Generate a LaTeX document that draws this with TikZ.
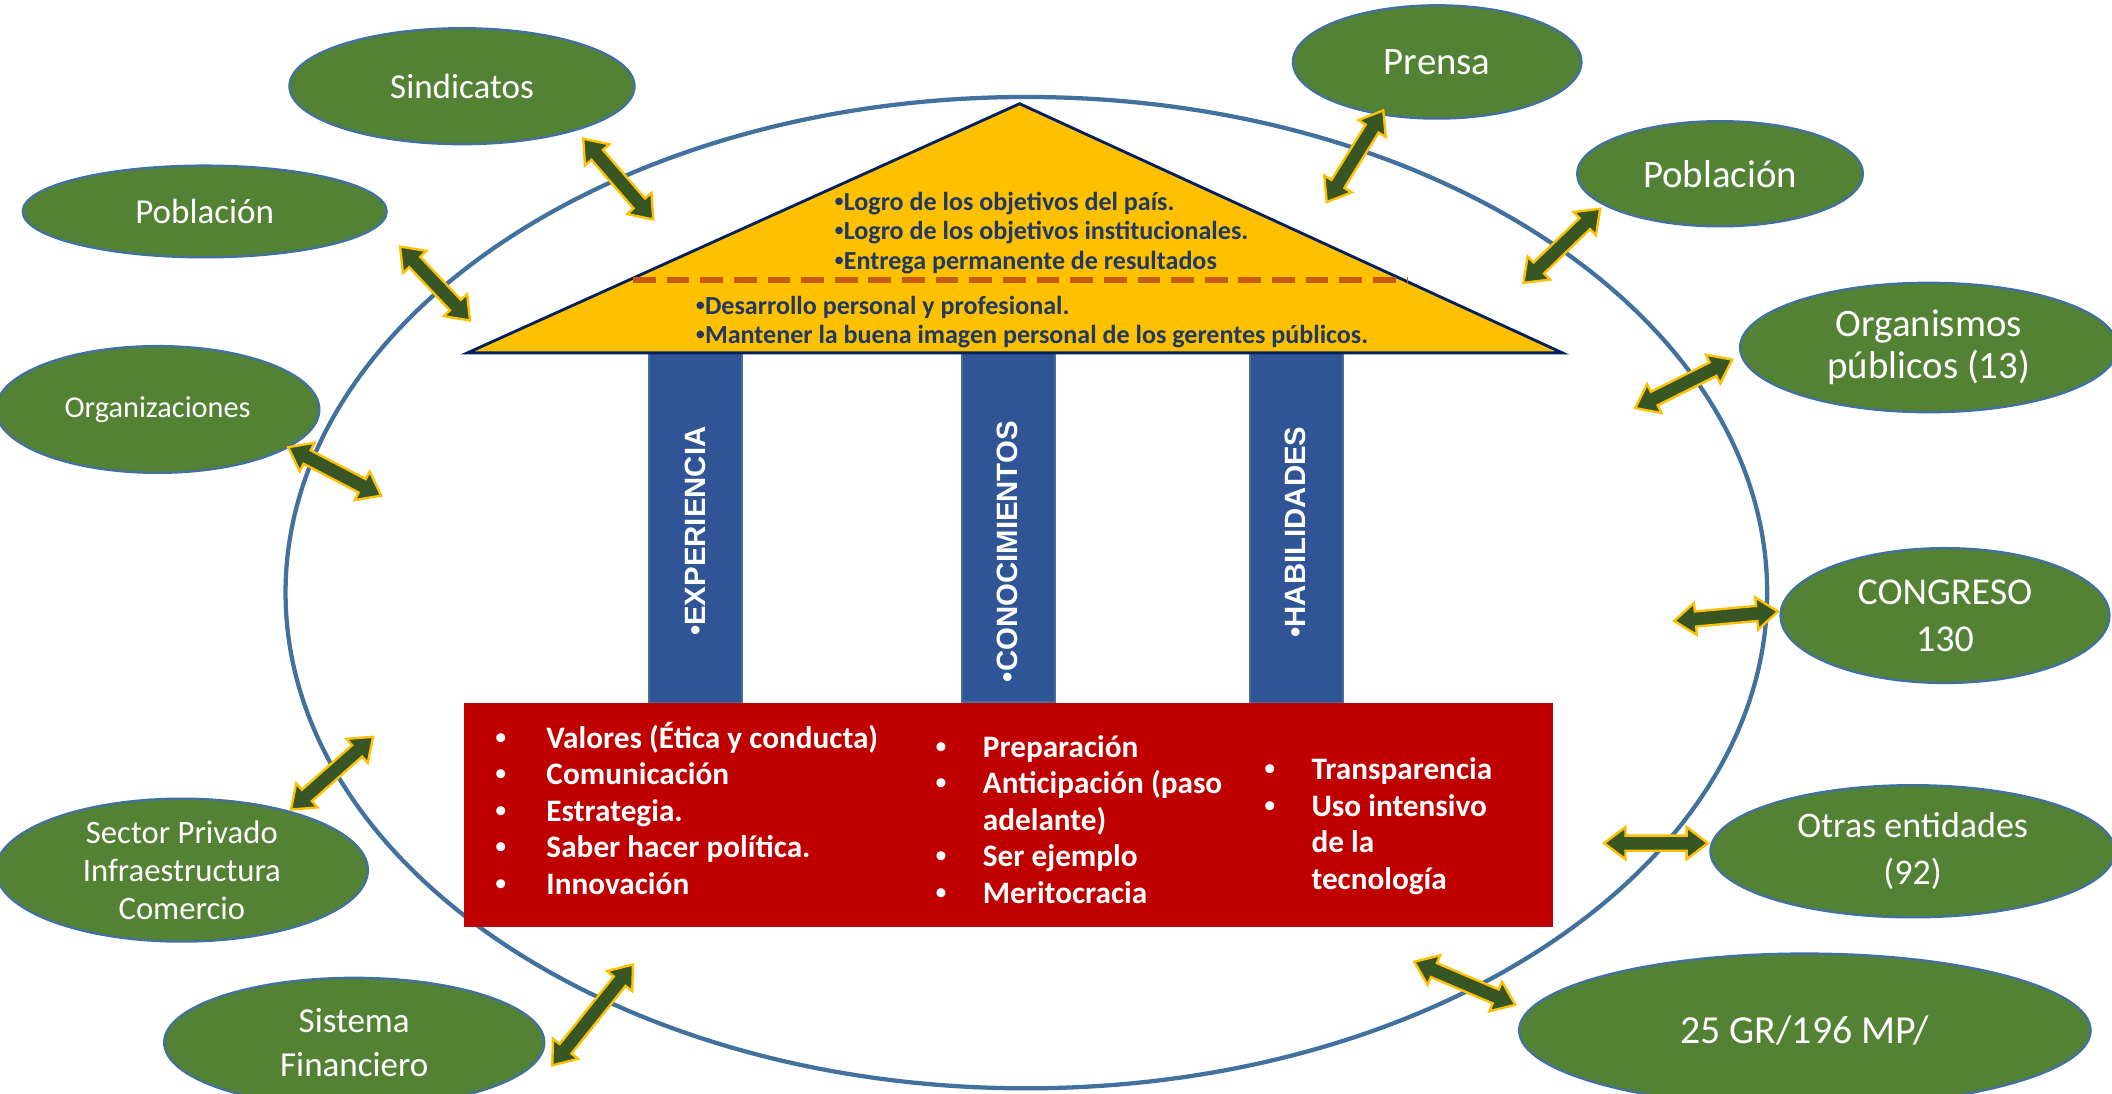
\documentclass[tikz,border=0pt]{standalone}
\usepackage{fontspec}
\setmainfont{Carlito}
\newfontfamily\pillarfont{Liberation Sans}
\usetikzlibrary{shapes.geometric,decorations.markings}

\definecolor{ringblue}{HTML}{41719C}
\definecolor{actorgreen}{HTML}{548235}
\definecolor{arrowgreen}{HTML}{375623}
\definecolor{arrowgold}{HTML}{FFC000}
\definecolor{roofyellow}{HTML}{FFC000}
\definecolor{roofline}{HTML}{002060}
\definecolor{rooftext}{HTML}{1F3864}
\definecolor{dashbrown}{HTML}{C55A11}
\definecolor{pillarblue}{HTML}{2F5597}
\definecolor{basered}{HTML}{C00000}

% small bullet
\newcommand\dotmark{{\pillarfont\textbullet}}

% fat double arrow drawn along a path
\newcommand\headlen{4.5pt}
\newcommand\headw{3.4pt}
\newcommand\shaftw{1.6pt}
\newcommand\fatarrow{%
  \filldraw[fill=arrowgreen, draw=arrowgold, line width=0.5pt]
    (0pt,0pt) -- (\headlen,\headw) -- (\headlen,\shaftw)
    -- (\pgfdecoratedpathlength-\headlen,\shaftw)
    -- (\pgfdecoratedpathlength-\headlen,\headw)
    -- (\pgfdecoratedpathlength,0pt)
    -- (\pgfdecoratedpathlength-\headlen,-\headw)
    -- (\pgfdecoratedpathlength-\headlen,-\shaftw)
    -- (\headlen,-\shaftw) -- (\headlen,-\headw) -- cycle;}

\tikzset{
  actor/.style={ellipse, fill=actorgreen, draw=ringblue, line width=0.5pt,
    text=white, align=center, inner sep=0pt},
  link/.style={postaction={decorate,
    decoration={markings, mark=at position 0 with {\fatarrow}}}},
  pillar/.style={rectangle, fill=pillarblue, draw=ringblue, line width=0.4pt,
    inner sep=0pt, minimum width=0.69cm, minimum height=2.6cm},
  pillartext/.style={rotate=90, anchor=east, text=white, inner sep=0pt,
    font=\pillarfont\bfseries\fontsize{6.2pt}{7pt}\selectfont},
  rooftxt/.style={anchor=west, align=left, text=rooftext, inner sep=0pt,
    font=\bfseries\fontsize{5.5pt}{6.26pt}\selectfont},
  basetxt/.style={anchor=west, text=white, inner sep=0pt,
    font=\bfseries\fontsize{6.6pt}{7.7pt}\selectfont},
}

\begin{document}
\begin{tikzpicture}[x=0.01cm, y=-0.01cm]
  \useasboundingbox (0,0) rectangle (1568,812);

  % Outer ring
  \draw[ringblue, line width=0.9pt] (762,440) ellipse (550 and 368);

  % Pillars
  \node[pillar] (p1) at (516.5,392) {};
  \node[pillar] (p2) at (748.5,391) {};
  \node[pillar] (p3) at (962.5,392) {};
  \node[pillartext] (exp) at (516,316) {\textbullet EXPERIENCIA};
  \node[pillartext] (con) at (748,312) {\textbullet CONOCIMIENTOS};
  \node[pillartext] (hab) at (962,316) {\textbullet HABILIDADES};

  % Roof
  \filldraw[fill=roofyellow, draw=roofline, line width=0.6pt]
    (347,262) -- (757,77) -- (1160,262) -- cycle;
  \draw[dashbrown, line width=1.2pt, dash pattern=on 4.8pt off 2.3pt]
    (470,208) -- (1045,208);
  \node[rooftxt] (goals) at (619,173)
    {\dotmark Logro de los objetivos del país.\\
     \dotmark Logro de los objetivos institucionales.\\
     \dotmark Entrega permanente de resultados};
  \node[rooftxt] (self) at (516,239)
    {\dotmark Desarrollo personal y profesional.\\
     \dotmark Mantener la buena imagen personal de los gerentes públicos.};

  % Base
  \node[rectangle, fill=basered, inner sep=0pt, minimum width=8.08cm,
    minimum height=1.66cm] (base) at (749,605) {};
  \node[basetxt] (vals) at (367,604)
    {\begin{tabular}{@{}p{0.38cm}@{}l@{}}
     \dotmark & Valores (Ética y conducta)\\
     \dotmark & Comunicación\\
     \dotmark & Estrategia.\\
     \dotmark & Saber hacer política.\\
     \dotmark & Innovación
     \end{tabular}};
  \node[basetxt] (prep) at (694,611)
    {\begin{tabular}{@{}p{0.35cm}@{}l@{}}
     \dotmark & Preparación\\
     \dotmark & Anticipación (paso\\
              & adelante)\\
     \dotmark & Ser ejemplo\\
     \dotmark & Meritocracia
     \end{tabular}};
  \node[basetxt] (tran) at (938,614)
    {\begin{tabular}{@{}p{0.35cm}@{}l@{}}
     \dotmark & Transparencia\\
     \dotmark & Uso intensivo\\
              & de la\\
              & tecnología
     \end{tabular}};

  % Actors around the ring
  \node[actor, minimum width=2.56cm, minimum height=0.86cm,
    font=\fontsize{7.4pt}{8.9pt}\selectfont] (sind) at (343,64) {Sindicatos};
  \node[actor, minimum width=2.70cm, minimum height=0.68cm,
    font=\fontsize{7.4pt}{8.9pt}\selectfont] (pobl) at (152,157) {Población};
  \node[actor, minimum width=2.40cm, minimum height=0.94cm,
    font=\fontsize{6.4pt}{7.7pt}\selectfont] (orgs) at (117,304) {Organizaciones};
  \node[actor, minimum width=2.76cm, minimum height=1.06cm,
    font=\fontsize{6.9pt}{8pt}\selectfont] (priv) at (135,646)
    {Sector Privado\\Infraestructura\\Comercio};
  \node[actor, minimum width=2.82cm, minimum height=0.96cm,
    font=\fontsize{7.4pt}{9.1pt}\selectfont] (fina) at (263,774)
    {Sistema\\Financiero};
  \node[actor, minimum width=2.14cm, minimum height=0.84cm,
    font=\fontsize{8.2pt}{9.8pt}\selectfont] (pren) at (1067,46) {Prensa};
  \node[actor, minimum width=2.12cm, minimum height=0.78cm,
    font=\fontsize{8.2pt}{9.8pt}\selectfont] (pobr) at (1277,129) {Población};
  \node[actor, minimum width=2.80cm, minimum height=0.96cm,
    font=\fontsize{8.2pt}{8.8pt}\selectfont] (orgp) at (1432,258)
    {Organismos\\públicos (13)};
  \node[actor, minimum width=2.44cm, minimum height=1.00cm,
    font=\fontsize{8pt}{10pt}\selectfont] (cong) at (1444,457)
    {CONGRESO\\130};
  \node[actor, minimum width=3.00cm, minimum height=0.98cm,
    font=\fontsize{7.6pt}{10pt}\selectfont] (otra) at (1420,632)
    {Otras entidades\\(92)};
  \node[actor, minimum width=4.24cm, minimum height=1.14cm,
    font=\fontsize{8.4pt}{9.8pt}\selectfont] (regi) at (1340,765)
    {25 GR/196 MP/};

  % Arrow ends
  \coordinate (sind-a) at (433,103);  \coordinate (sind-b) at (485,163);
  \coordinate (pobl-a) at (297,183);  \coordinate (pobl-b) at (349,238);
  \coordinate (orgs-a) at (214,332);  \coordinate (orgs-b) at (283,368);
  \coordinate (priv-a) at (216,601);  \coordinate (priv-b) at (277,547);
  \coordinate (fina-a) at (410,791);  \coordinate (fina-b) at (470,716);
  \coordinate (pren-a) at (1027,82);  \coordinate (pren-b) at (985,150);
  \coordinate (pobr-a) at (1188,155); \coordinate (pobr-b) at (1131,210);
  \coordinate (orgp-a) at (1286,267); \coordinate (orgp-b) at (1214,303);
  \coordinate (cong-a) at (1320,454); \coordinate (cong-b) at (1243,461);
  \coordinate (otra-a) at (1268,626); \coordinate (otra-b) at (1191,626);
  \coordinate (regi-a) at (1125,746); \coordinate (regi-b) at (1050,714);

  % Two-way links
  \path[link] (sind-a) -- (sind-b);
  \path[link] (pobl-a) -- (pobl-b);
  \path[link] (orgs-a) -- (orgs-b);
  \path[link] (priv-a) -- (priv-b);
  \path[link] (fina-a) -- (fina-b);
  \path[link] (pren-a) -- (pren-b);
  \path[link] (pobr-a) -- (pobr-b);
  \path[link] (orgp-a) -- (orgp-b);
  \path[link] (cong-a) -- (cong-b);
  \path[link] (otra-a) -- (otra-b);
  \path[link] (regi-a) -- (regi-b);
\end{tikzpicture}
\end{document}
